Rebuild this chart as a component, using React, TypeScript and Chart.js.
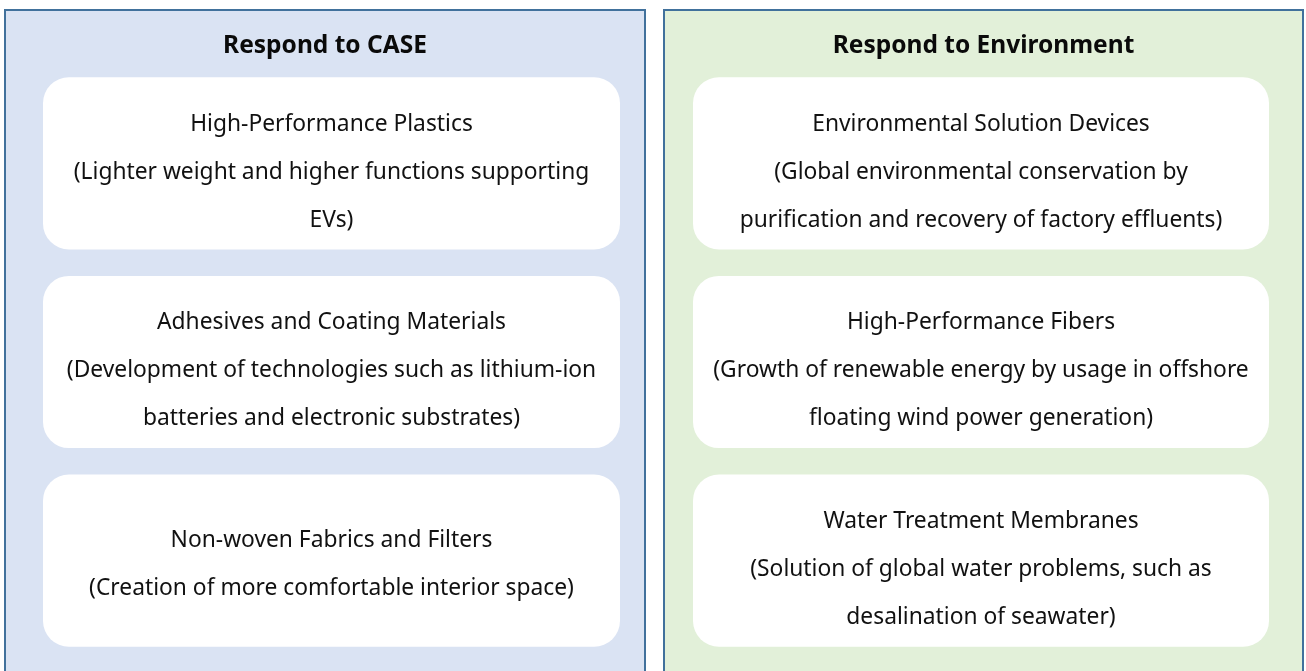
import React, { useEffect, useRef } from "react";
import { Chart, registerables } from "chart.js";

Chart.register(...registerables);

// ---- content ----
const panelTitles = ["Respond to CASE", "Respond to Environment"];
const rowLabels = ["row1", "row2", "row3"];

const caseLines: string[][] = [
  ["High-Performance Plastics", "(Lighter weight and higher functions supporting", "EVs)"],
  ["Adhesives and Coating Materials", "(Development of technologies such as lithium-ion", "batteries and electronic substrates)"],
  ["Non-woven Fabrics and Filters", "(Creation of more comfortable interior space)"],
];
const envLines: string[][] = [
  ["Environmental Solution Devices", "(Global environmental conservation by", "purification and recovery of factory effluents)"],
  ["High-Performance Fibers", "(Growth of renewable energy by usage in offshore", "floating wind power generation)"],
  ["Water Treatment Membranes", "(Solution of global water problems, such as", "desalination of seawater)"],
];

// ---- layout (horizontal layout units on a 0..1306 scale) ----
const panelSpans: [number, number][] = [
  [5, 645],
  [664, 1303],
];
const boxSpans: [number, number][] = [
  [43, 620],
  [693, 1269],
];
const panelFills = ["#DAE3F3", "#E2F0D9"];
const panelBorder = "#41719C";
const panelTop = 10;
const headingY = 46;
const lineGap = 48;
const FONT = "'Noto Sans', 'DejaVu Sans', sans-serif";
const textSize = 22.8;
const headSize = 24.5;

const allLines = [caseLines, envLines];

const diagramPlugin = {
  id: "diagram",
  beforeDatasetsDraw(chart: any) {
    const { ctx } = chart;
    const xs = chart.scales.x;
    ctx.save();
    panelSpans.forEach((span, i) => {
      const x0 = xs.getPixelForValue(span[0]);
      const x1 = xs.getPixelForValue(span[1]);
      const bottom = chart.height + 20;
      ctx.fillStyle = panelFills[i];
      ctx.fillRect(x0, panelTop, x1 - x0, bottom - panelTop);
      ctx.strokeStyle = panelBorder;
      ctx.lineWidth = 2;
      ctx.strokeRect(x0, panelTop, x1 - x0, bottom - panelTop);
      ctx.fillStyle = "#0a0a0a";
      ctx.font = `bold ${headSize}px ${FONT}`;
      ctx.textAlign = "center";
      ctx.textBaseline = "middle";
      ctx.fillText(panelTitles[i], (x0 + x1) / 2, headingY);
    });
    ctx.restore();
  },
  afterDatasetsDraw(chart: any) {
    const { ctx } = chart;
    ctx.save();
    ctx.fillStyle = "#111111";
    ctx.font = `${textSize}px ${FONT}`;
    ctx.textAlign = "center";
    ctx.textBaseline = "middle";
    chart.data.datasets.forEach((_ds: any, di: number) => {
      const meta = chart.getDatasetMeta(di);
      meta.data.forEach((bar: any, ri: number) => {
        const lines = allLines[di][ri];
        const n = lines.length;
        const cx = (bar.x + bar.base) / 2;
        const off = n === 3 ? 9 : 4;
        lines.forEach((t, li) => {
          ctx.fillText(t, cx, bar.y + (li - (n - 1) / 2) * lineGap + off);
        });
      });
    });
    ctx.restore();
  },
};

export default function App() {
  const ref = useRef<HTMLCanvasElement>(null);
  useEffect(() => {
    document.body.style.margin = "0";
    const canvas = ref.current!;
    const chart = new Chart(canvas, {
      type: "bar",
      data: {
        labels: rowLabels,
        datasets: boxSpans.map((span, i) => ({
          label: panelTitles[i],
          data: rowLabels.map(() => [span[0], span[1]]),
          backgroundColor: "#FFFFFF",
          borderWidth: 0,
          borderRadius: 26,
          borderSkipped: false,
          grouped: false,
          barPercentage: 0.867,
          categoryPercentage: 1,
        })) as any,
      },
      options: {
        indexAxis: "y",
        animation: false,
        responsive: false,
        layout: { padding: { top: 64, bottom: 11, left: 0, right: 0 } },
        plugins: { legend: { display: false }, tooltip: { enabled: false } },
        scales: {
          x: { type: "linear", min: 0, max: 1306, display: false },
          y: { type: "category", display: false, offset: true },
        },
      },
      plugins: [diagramPlugin],
    });
    return () => chart.destroy();
  }, []);
  return (
    <div style={{ width: 1306, height: 671 }}>
      <canvas ref={ref} width={1306} height={671} />
    </div>
  );
}
